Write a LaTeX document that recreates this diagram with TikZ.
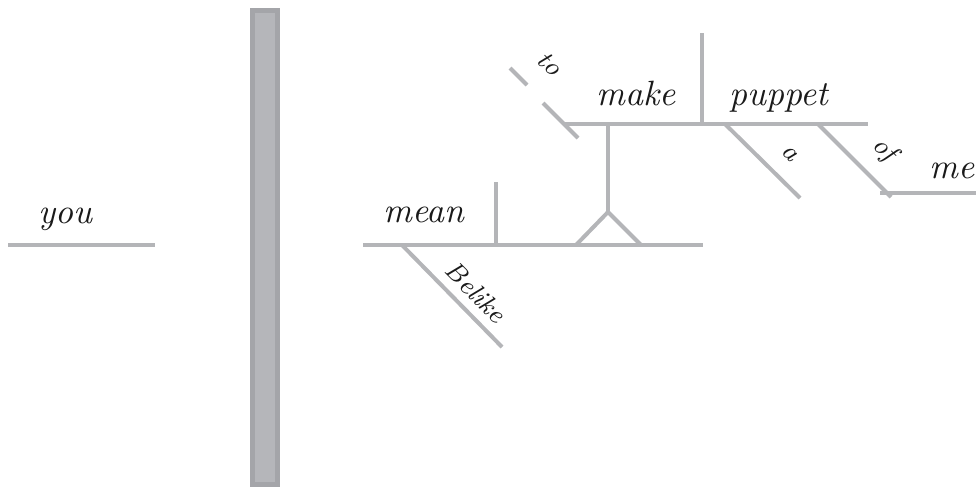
\documentclass[tikz,border=0pt]{standalone}
\usepackage{tikz}
\usetikzlibrary{positioning}
\usepackage{xcolor}
\definecolor{RuleGray}{HTML}{B4B5B8}
\definecolor{BarEdge}{HTML}{A4A5A9}
\definecolor{BarFill}{HTML}{B5B6BA}
\definecolor{Ink}{HTML}{1A1A1A}

\begin{document}
\begin{tikzpicture}[
    x=0.1mm, y=-0.1mm,
    rule/.style={draw=RuleGray, line width=0.4mm},
    word/.style={font=\fontsize{10}{12}\selectfont\itshape, text=Ink, anchor=base, inner sep=0pt},
    tag/.style={font=\fontsize{7.5}{9}\selectfont\itshape, text=Ink, rotate=-45, inner sep=0pt},
    bar/.style={draw=BarEdge, fill=BarFill, line width=0.5mm,
        minimum width=2.5mm, minimum height=47.4mm, inner sep=0pt, outer sep=0pt}
]
\useasboundingbox (0,0) rectangle (976,492);

% === Subject ===
\coordinate (youL) at (8,245);
\coordinate (youR) at (155,245);
\draw[rule] (youL) -- (youR);
\node[word] (you) at (65,223) {you};

% === Subject / predicate divider ===
\node[bar] (split) at (265,247.5) {};

% === Main clause: mean ===
\coordinate (mainL) at (363,245);
\coordinate (mainR) at (703,245);
\coordinate (meanTop) at (496,182);
\coordinate (meanBot) at (496,245);
\draw[rule] (mainL) -- (mainR);
\draw[rule] (meanTop) -- (meanBot);
\node[word] (mean) at (424,222) {mean};

% === Modifier: Belike ===
\coordinate (belikeA) at (402,245);
\coordinate (belikeB) at (502,347);
\draw[rule] (belikeA) -- (belikeB);
\node[tag] (belike) at (476,292) {Belike};

% === Pedestal for the infinitive phrase ===
\coordinate (pedTop) at (608,124);
\coordinate (pedFork) at (608,212);
\coordinate (pedL) at (576,245);
\coordinate (pedR) at (641,245);
\draw[rule] (pedTop) -- (pedFork);
\draw[rule, line join=miter] (pedL) -- (pedFork) -- (pedR);

% === Infinitive: to make puppet ===
\coordinate (toA) at (510,68);
\coordinate (toB) at (527,85);
\coordinate (toC) at (543,103);
\coordinate (toD) at (578,138);
\draw[rule] (toA) -- (toB);
\draw[rule] (toC) -- (toD);
\node[tag] (to) at (550,64) {to};

\coordinate (upL) at (565,124);
\coordinate (upR) at (868,124);
\coordinate (makeTop) at (702,33);
\coordinate (makeBot) at (702,124);
\draw[rule] (upL) -- (upR);
\draw[rule] (makeTop) -- (makeBot);
\node[word] (make) at (636,105) {make};
\node[word] (puppet) at (779,105) {puppet};

% === Modifiers of puppet ===
\coordinate (aA) at (725,124);
\coordinate (aB) at (800,198);
\draw[rule] (aA) -- (aB);
\node[tag] (art) at (790,154) {a};

\coordinate (ofA) at (818,124);
\coordinate (ofB) at (891,197);
\coordinate (meR) at (976,193);
\draw[rule, line join=miter] (ofA) -- (ofB);
\draw[rule] ([xshift=-3]ofB |- meR) -- (meR);
\node[tag] (of) at (884,150) {of};
\node[word] (me) at (952,178) {me};

\end{tikzpicture}
\end{document}
